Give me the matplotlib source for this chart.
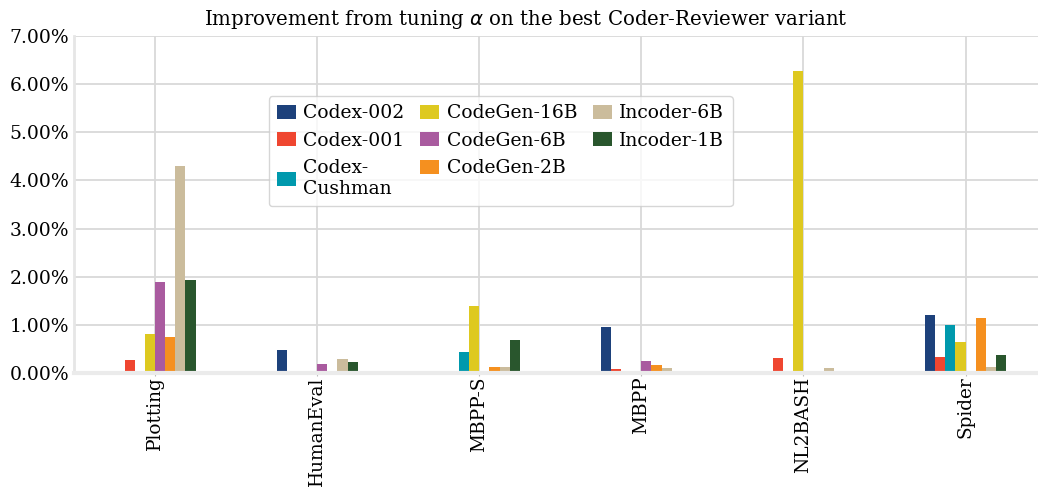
import numpy as np
import pandas as pd
import matplotlib
matplotlib.use("Agg")
import matplotlib.pyplot as plt
from matplotlib.ticker import PercentFormatter

datasets = ["Plotting", "HumanEval", "MBPP-S", "MBPP", "NL2BASH", "Spider"]
models = ["Codex-002", "Codex-001", "Codex-\nCushman", "CodeGen-16B",
          "CodeGen-6B", "CodeGen-2B", "Incoder-6B", "Incoder-1B"]
colors = ["#1d417b", "#ef4630", "#0099ad", "#dec920",
          "#a95b9f", "#f5901f", "#cbbc9c", "#29562d"]

# improvement in %, one list per model (order of datasets)
codex_002 = [0.0, 0.48, 0.0, 0.96, 0.0, 1.21]
codex_001 = [0.28, 0.0, 0.0, 0.09, 0.32, 0.34]
codex_cushman = [0.0, 0.05, 0.44, 0.0, 0.05, 1.00]
codegen_16b = [0.815, 0.0, 1.40, 0.0, 6.27, 0.65]
codegen_6b = [1.90, 0.19, 0.0, 0.25, 0.0, 0.0]
codegen_2b = [0.75, 0.0, 0.13, 0.17, 0.0, 1.15]
incoder_6b = [4.30, 0.30, 0.13, 0.11, 0.11, 0.13]
incoder_1b = [1.94, 0.23, 0.69, 0.0, 0.0, 0.38]

df = pd.DataFrame(
    np.array([codex_002, codex_001, codex_cushman, codegen_16b,
              codegen_6b, codegen_2b, incoder_6b, incoder_1b]).T,
    index=datasets, columns=models)

plt.rcParams["font.family"] = "DejaVu Serif"
plt.rcParams["font.size"] = 13.5

fig = plt.figure(figsize=(10.38, 4.87), dpi=100)
ax = fig.add_axes([0.0713, 0.234, 0.937, 0.692])
df.plot.bar(ax=ax, color=colors, width=0.5, legend=False)

ax.set_ylim(0, 7)
ax.yaxis.set_major_formatter(PercentFormatter(decimals=2))
ax.set_axisbelow(True)
ax.grid(True, color="#d9d9d9", linewidth=1.3)
for s in ["top", "right"]:
    ax.spines[s].set_visible(False)
ax.spines["left"].set_color("#e6e6e6")
ax.spines["left"].set_linewidth(2)
ax.spines["bottom"].set_color("#ebebeb")
ax.spines["bottom"].set_linewidth(3)
ax.tick_params(axis="y", length=0, labelsize=13.5)
ax.tick_params(axis="x", length=2, color="#bbbbbb", labelsize=13.3, pad=0.5)
ax.set_title(r"Improvement from tuning $\alpha$ on the best Coder-Reviewer variant",
             fontsize=14.2, pad=8, x=0.465)

ax.legend(ncol=3, loc="upper left", bbox_to_anchor=(0.2, 0.822),
          borderaxespad=0, fontsize=13.5, handlelength=1.0, handleheight=0.75,
          columnspacing=0.85, labelspacing=0.5, handletextpad=0.4,
          borderpad=0.45)

fig.savefig("out.png", dpi=100)
